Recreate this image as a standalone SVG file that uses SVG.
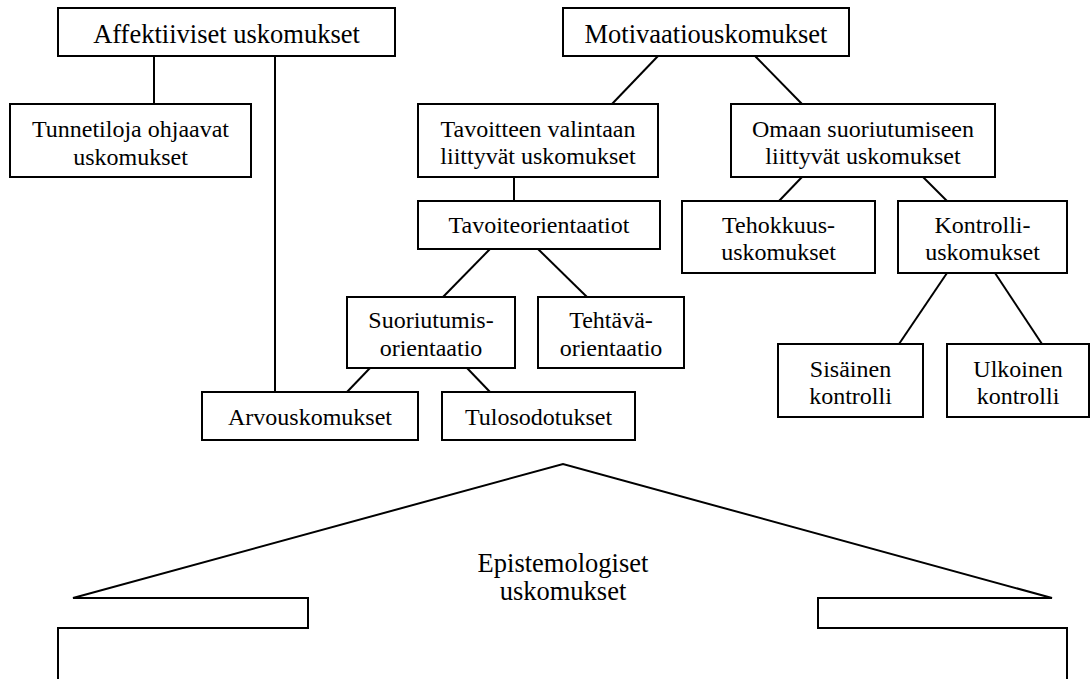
<svg xmlns="http://www.w3.org/2000/svg" width="1090" height="679" viewBox="0 0 1090 679">
<style>
.box{fill:#fff;stroke:#000;stroke-width:2}
.ln{stroke:#000;stroke-width:2;fill:none}
text{font-family:"Liberation Serif","Times New Roman",serif;font-size:24px;fill:#000;text-anchor:middle}
.big{font-size:26.5px}
</style>
<rect width="1090" height="679" fill="#fff"/>
<g id="connectors">
<line class="ln" x1="154" y1="56" x2="154" y2="104"/>
<line class="ln" x1="275" y1="56" x2="275" y2="392"/>
<line class="ln" x1="658" y1="56" x2="612" y2="104"/>
<line class="ln" x1="755" y1="56" x2="802" y2="104"/>
<line class="ln" x1="514" y1="177" x2="514" y2="201"/>
<line class="ln" x1="802" y1="177" x2="779" y2="201"/>
<line class="ln" x1="923" y1="177" x2="947" y2="201"/>
<line class="ln" x1="490" y1="249" x2="443" y2="297"/>
<line class="ln" x1="538" y1="249" x2="587" y2="297"/>
<line class="ln" x1="947" y1="273" x2="899" y2="344"/>
<line class="ln" x1="995" y1="273" x2="1042" y2="344"/>
<line class="ln" x1="370" y1="368" x2="347" y2="392"/>
<line class="ln" x1="467" y1="368" x2="490" y2="392"/>
</g>
<g id="affektiiviset"><rect class="box" x="58" y="8" width="337" height="48"/><text class="big" x="226.5" y="43">Affektiiviset uskomukset</text></g>
<g id="tunnetiloja"><rect class="box" x="10" y="104" width="241" height="73"/><text x="130.5" y="137">Tunnetiloja ohjaavat</text><text x="130.5" y="165">uskomukset</text></g>
<g id="motivaatio"><rect class="box" x="563" y="8" width="286" height="48"/><text class="big" x="706" y="43">Motivaatiouskomukset</text></g>
<g id="tavoitteen"><rect class="box" x="418" y="104" width="240" height="73"/><text x="538" y="137">Tavoitteen valintaan</text><text x="538" y="164">liittyvät uskomukset</text></g>
<g id="omaan"><rect class="box" x="731" y="104" width="264" height="73"/><text x="863" y="137">Omaan suoriutumiseen</text><text x="863" y="164">liittyvät uskomukset</text></g>
<g id="tavoiteorientaatiot"><rect class="box" x="418" y="201" width="242" height="48"/><text x="539" y="233">Tavoiteorientaatiot</text></g>
<g id="tehokkuus"><rect class="box" x="682" y="201" width="193" height="72"/><text x="778.5" y="233">Tehokkuus-</text><text x="778.5" y="260">uskomukset</text></g>
<g id="kontrolli"><rect class="box" x="898" y="201" width="169" height="72"/><text x="982.5" y="233">Kontrolli-</text><text x="982.5" y="260">uskomukset</text></g>
<g id="suoriutumis"><rect class="box" x="347" y="297" width="168" height="71"/><text x="431" y="328">Suoriutumis-</text><text x="431" y="356">orientaatio</text></g>
<g id="tehtava"><rect class="box" x="538" y="297" width="146" height="71"/><text x="611" y="328">Tehtävä-</text><text x="611" y="356">orientaatio</text></g>
<g id="sisainen"><rect class="box" x="778" y="344" width="145" height="73"/><text x="850.5" y="377">Sisäinen</text><text x="850.5" y="404">kontrolli</text></g>
<g id="ulkoinen"><rect class="box" x="947" y="344" width="142" height="73"/><text x="1018" y="377">Ulkoinen</text><text x="1018" y="404">kontrolli</text></g>
<g id="arvouskomukset"><rect class="box" x="202" y="392" width="216" height="48"/><text x="310" y="425">Arvouskomukset</text></g>
<g id="tulosodotukset"><rect class="box" x="442" y="392" width="193" height="48"/><text x="538.5" y="425">Tulosodotukset</text></g>
<g id="epistemologiset">
<path class="ln" d="M58,680 L58,628 L308,628 L308,598 L73,598 L563,464 L1052,598 L818,598 L818,628 L1067,628 L1067,680"/>
<text class="big" x="563" y="572">Epistemologiset</text><text class="big" x="563" y="600">uskomukset</text>
</g>
</svg>
